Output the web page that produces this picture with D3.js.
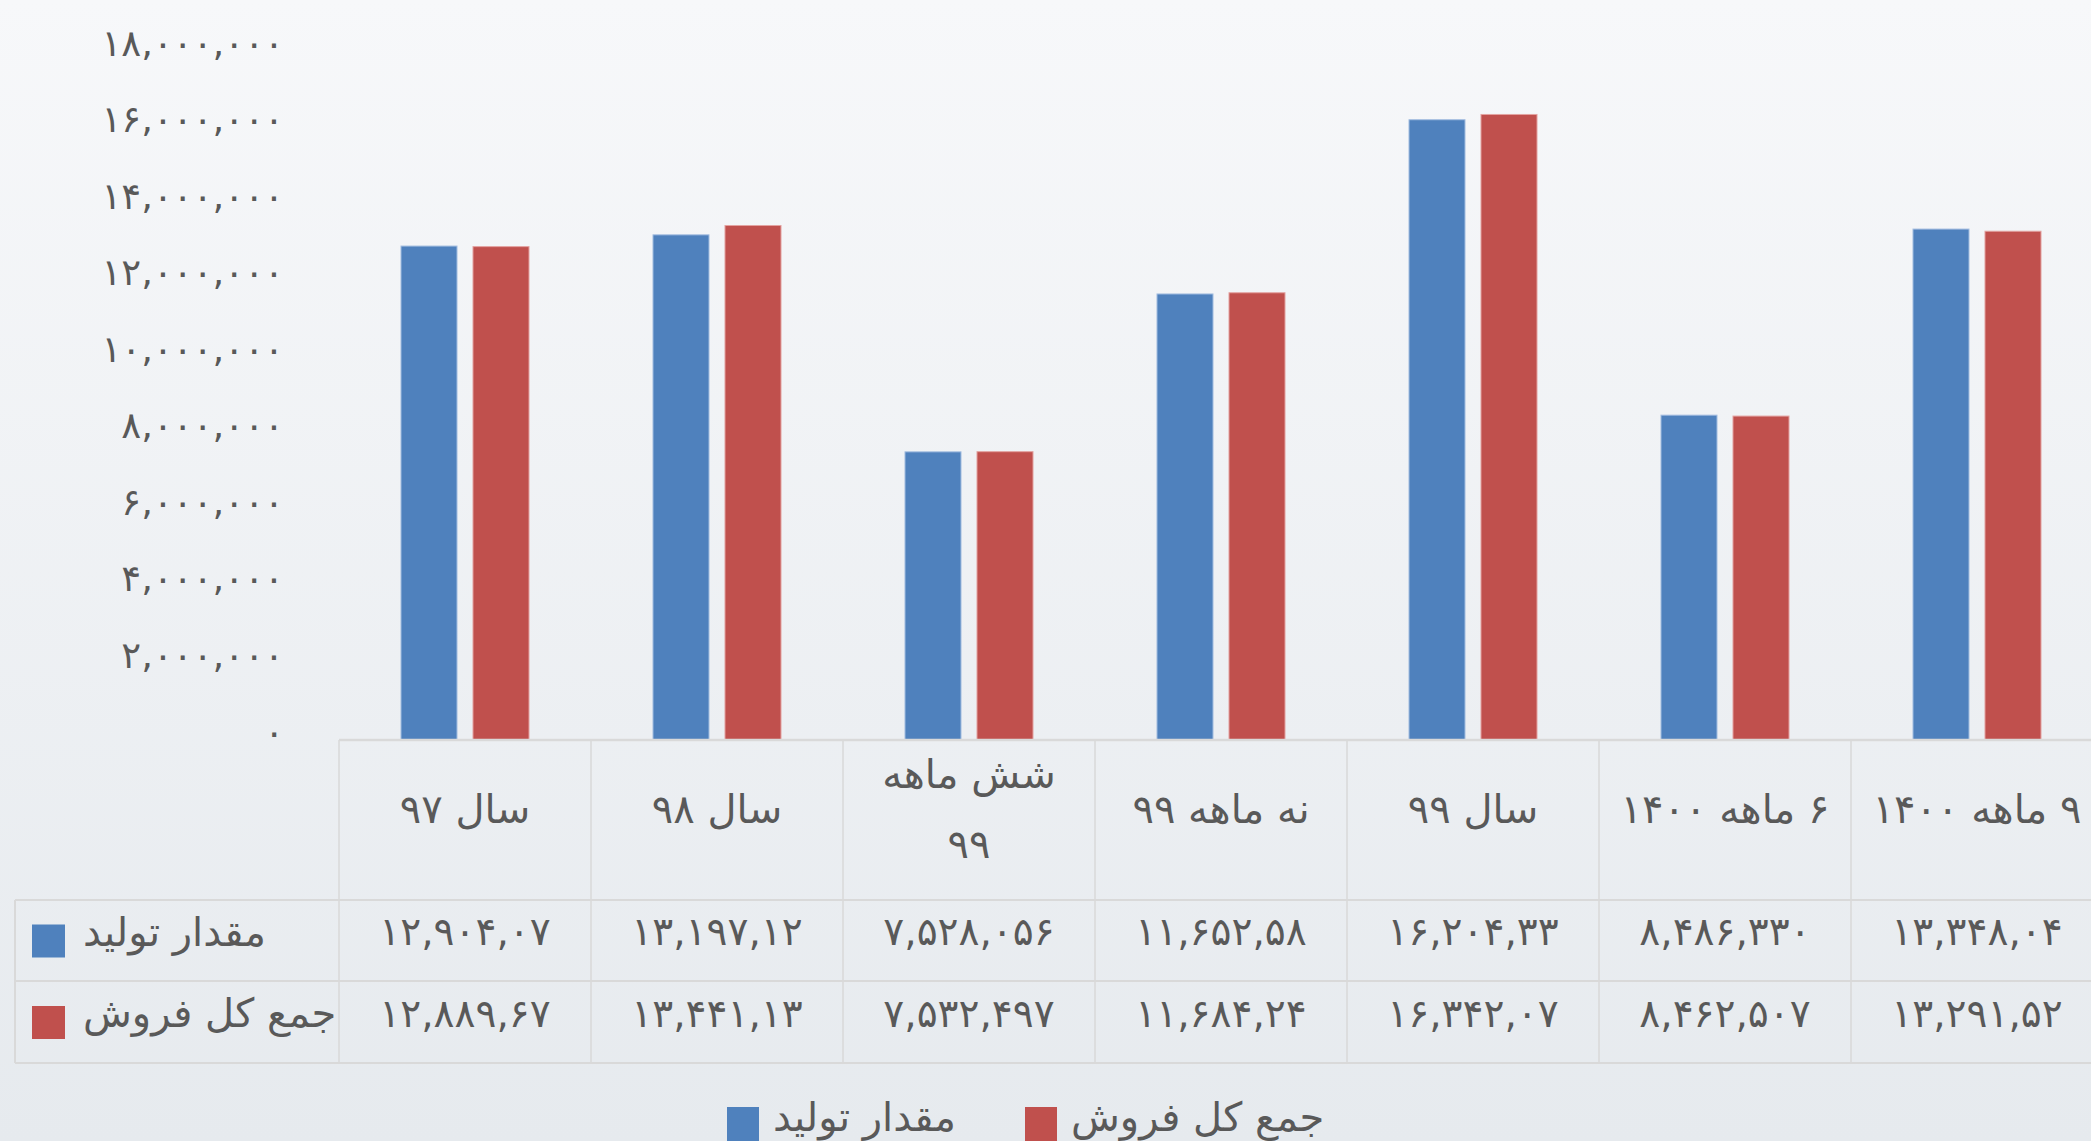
<!DOCTYPE html>
<html>
<head>
<meta charset="utf-8">
<script src="https://cdn.jsdelivr.net/npm/d3@7"></script>
<style>
    body { margin: 0; overflow: hidden; }
    text { font-family: "DejaVu Sans", sans-serif; fill: #595959; }
</style>
</head>
<body>
<div id="chart"></div>
<script>
// categories (header row of the data table)
var categories = ["سال ۹۷", "سال ۹۸", "شش ماهه\n۹۹", "نه ماهه ۹۹", "سال ۹۹", "۶ ماهه ۱۴۰۰", "۹ ماهه ۱۴۰۰"];
var seriesNames = ["مقدار تولید", "جمع کل فروش"];
var production = [12904070, 13197120, 7528056, 11652580, 16204330, 8486330, 13348040];
var sales = [12889670, 13441130, 7532497, 11684240, 16342070, 8462507, 13291520];
var yTicks = [0, 2000000, 4000000, 6000000, 8000000, 10000000, 12000000, 14000000, 16000000, 18000000];
var colors = ["#4f81bd", "#c0504d"];

var width = 2091, height = 1141;
var tableLeft = 15,
    headerTop = 740, headerBottom = 900,
    rowBottoms = [981, 1063];

// latin digits -> persian digits
function fa(s) {
    return String(s).replace(/\d/g, function (d) { return "۰۱۲۳۴۵۶۷۸۹"[+d]; });
}
var fmt = d3.format(",");

var svg = d3.select("#chart").append("svg")
    .attr("width", width)
    .attr("height", height);

var grad = svg.append("defs").append("linearGradient")
    .attr("id", "bg")
    .attr("x1", 0).attr("y1", 0).attr("x2", 0).attr("y2", 1);
grad.append("stop").attr("offset", "0%").attr("stop-color", "#f7f8fa");
grad.append("stop").attr("offset", "100%").attr("stop-color", "#e6eaee");

svg.append("rect")
    .attr("width", width)
    .attr("height", height)
    .attr("fill", "url(#bg)");

var x0 = d3.scaleBand()
    .domain(categories)
    .range([339, 2103])
    .paddingInner(0.492)
    .paddingOuter(0.246);

var x1 = d3.scaleBand()
    .domain([0, 1])
    .range([0, x0.bandwidth()])
    .paddingInner(0.222);

var y = d3.scaleLinear()
    .domain([0, 18000000])
    .range([headerTop, 51]);

// y axis labels
var yAxis = svg.append("g")
    .attr("transform", "translate(284,0)")
    .call(d3.axisLeft(y).tickValues(yTicks).tickSize(0).tickPadding(0)
        .tickFormat(function (d) { return fa(fmt(d)); }));
yAxis.select(".domain").remove();
yAxis.selectAll("text")
    .attr("dy", "4px")
    .style("font-size", "37px")
    .style("fill", "#595959");

// bars
var rows = categories.map(function (c, i) {
    return {label: c, values: [production[i], sales[i]]};
});

var group = svg.selectAll(".group")
    .data(rows)
    .enter().append("g")
    .attr("class", "group")
    .attr("transform", function (d) { return "translate(" + x0(d.label) + ",0)"; });

group.selectAll("rect")
    .data(function (d) { return d.values; })
    .enter().append("rect")
    .attr("x", function (d, i) { return x1(i); })
    .attr("y", function (d) { return y(d); })
    .attr("width", x1.bandwidth())
    .attr("height", function (d) { return y(0) - y(d); })
    .style("fill", function (d, i) { return colors[i]; })
    .style("stroke", function (d, i) { return i ? "#e3a3a1" : "#a3bde0"; })
    .style("stroke-width", 1);

// data table
var step = x0.step();
var cellLeft = function (c) { return x0(c) - x0.paddingOuter() * step; };
var grid = svg.append("g").style("stroke", "#d9d9d9").style("fill", "none");

grid.append("line")
    .attr("x1", cellLeft(categories[0])).attr("x2", width)
    .attr("y1", headerTop).attr("y2", headerTop)
    .style("stroke-width", 2.5);
[headerBottom].concat(rowBottoms).forEach(function (yy) {
    grid.append("line")
        .attr("x1", tableLeft).attr("x2", width)
        .attr("y1", yy).attr("y2", yy)
        .style("stroke-width", 2);
});
grid.append("line")
    .attr("x1", tableLeft).attr("x2", tableLeft)
    .attr("y1", headerBottom).attr("y2", rowBottoms[1])
    .style("stroke-width", 2);
categories.concat([null]).forEach(function (c, i) {
    var xx = cellLeft(categories[0]) + i * step;
    grid.append("line")
        .attr("x1", xx).attr("x2", xx)
        .attr("y1", headerTop).attr("y2", rowBottoms[1])
        .style("stroke-width", 1.5);
});

// header labels
var header = svg.selectAll(".cat")
    .data(categories)
    .enter().append("text")
    .attr("class", "cat")
    .attr("text-anchor", "middle")
    .attr("direction", "rtl")
    .style("direction", "rtl")
    .style("font-size", "40px");
header.each(function (c) {
    var lines = c.split("\n");
    var cx = cellLeft(c) + step / 2;
    var mid = 809;
    var lh = 70;
    d3.select(this).selectAll("tspan")
        .data(lines)
        .enter().append("tspan")
        .attr("x", cx)
        .attr("y", function (l, j) { return mid + (j - (lines.length - 1) / 2) * lh; })
        .attr("dy", "0.35em")
        .text(function (l) { return l; });
});

// table rows
var series = [production, sales];
series.forEach(function (vals, s) {
    var top = s === 0 ? headerBottom : rowBottoms[0];
    var mid = (top + rowBottoms[s]) / 2;

    svg.append("rect")
        .attr("x", 32).attr("y", mid - 16)
        .attr("width", 33).attr("height", 33)
        .style("fill", colors[s]);
    svg.append("text")
        .attr("x", 83).attr("y", mid - 9)
        .attr("dy", "0.35em")
        .style("font-size", "40px")
        .text(seriesNames[s]);

    svg.selectAll(".val" + s)
        .data(vals)
        .enter().append("text")
        .attr("class", "val" + s)
        .attr("x", function (d, i) { return cellLeft(categories[i]) + step / 2; })
        .attr("y", mid - 9)
        .attr("dy", "0.35em")
        .attr("text-anchor", "middle")
        .style("font-size", "39px")
        .text(function (d) { return fa(fmt(d)).slice(0, 9); });
});

// legend
var legendX = [727, 1025];
var legend = svg.selectAll(".legend")
    .data(seriesNames)
    .enter().append("g")
    .attr("class", "legend")
    .attr("transform", function (d, i) { return "translate(" + legendX[i] + ",1117)"; });

legend.append("rect")
    .attr("y", -10)
    .attr("width", 32)
    .attr("height", 34)
    .style("fill", function (d, i) { return colors[i]; });

legend.append("text")
    .attr("x", 46)
    .attr("dy", "0.35em")
    .style("font-size", "40px")
    .text(function (d) { return d; });
</script>
</body>
</html>
